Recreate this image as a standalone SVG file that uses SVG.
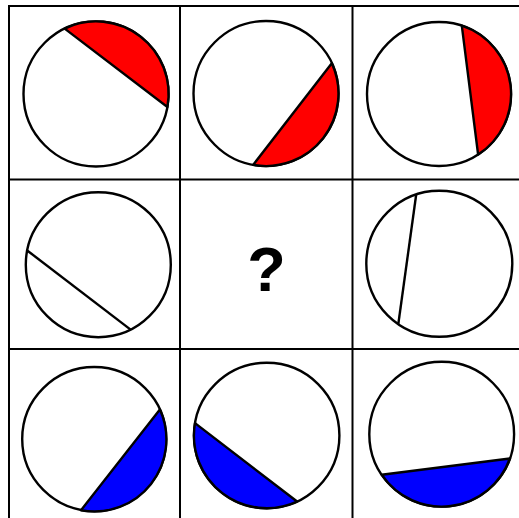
<svg xmlns="http://www.w3.org/2000/svg" width="519" height="518" viewBox="0 0 519 518">
<style>
.grid{stroke:#000;stroke-width:2;fill:none}
.c{fill:#fff;stroke:#000;stroke-width:2.4}
.ch{fill:none;stroke:#000;stroke-width:2.4}
.red{fill:#ff0000;stroke:#000;stroke-width:2.4;stroke-linejoin:round}
.blue{fill:#0000ff;stroke:#000;stroke-width:2.4;stroke-linejoin:round}
.q{font-family:"Liberation Sans",Arial,sans-serif;font-weight:bold;font-size:63px;fill:#000}
</style>
<rect width="519" height="518" fill="#fff"/>
<g id="connectors" class="grid">
<line x1="9" y1="6" x2="519" y2="6"/>
<line x1="9" y1="179.5" x2="519" y2="179.5"/>
<line x1="9" y1="349" x2="519" y2="349"/>
<line x1="9" y1="5" x2="9" y2="518"/>
<line x1="180" y1="5" x2="180" y2="518"/>
<line x1="352.5" y1="5" x2="352.5" y2="518"/>
</g>
<g id="cell-1-1">
<circle class="c" cx="96" cy="94" r="72.5"/>
<path class="red" d="M64.65,28.6 A72.5,72.5 0 0 1 167.4,107 Z"/>
</g>
<g id="cell-1-2">
<circle class="c" cx="266" cy="93.5" r="72.5"/>
<path class="red" d="M331.8,63.2 A72.5,72.5 0 0 1 253.1,164.9 Z"/>
</g>
<g id="cell-1-3">
<circle class="c" cx="439" cy="94" r="72"/>
<path class="red" d="M461.8,25.7 A72,72 0 0 1 478.1,154.5 Z"/>
</g>
<g id="cell-2-1">
<circle class="c" cx="98.3" cy="264.7" r="72.5"/>
<line class="ch" x1="27.2" y1="250.5" x2="130.6" y2="329.6"/>
</g>
<g id="cell-2-2">
<text class="q" x="266.5" y="290.5" text-anchor="middle">?</text>
</g>
<g id="cell-2-3">
<circle class="c" cx="439.3" cy="263.7" r="73"/>
<line class="ch" x1="416.2" y1="194.5" x2="398.3" y2="324.1"/>
</g>
<g id="cell-3-1">
<circle class="c" cx="94.2" cy="439" r="72"/>
<path class="blue" d="M159.9,409.6 A72,72 0 0 1 81,510.2 Z"/>
</g>
<g id="cell-3-2">
<circle class="c" cx="266.7" cy="435.5" r="72.7"/>
<path class="blue" d="M297.1,501.5 A72.7,72.7 0 0 1 195,423.1 Z"/>
</g>
<g id="cell-3-3">
<circle class="c" cx="441.7" cy="434.2" r="72.4"/>
<path class="blue" d="M509.9,458.5 A72.4,72.4 0 0 1 381.7,474.7 Z"/>
</g>
</svg>
